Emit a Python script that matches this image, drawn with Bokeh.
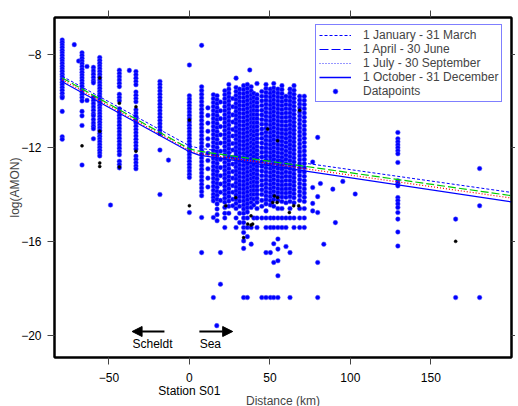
from bokeh.plotting import figure
from bokeh.models import (Range1d, LinearAxis, FixedTicker, Legend, LegendItem,
                          Label, Arrow, NormalHead, ColumnDataSource)
from bokeh.embed import file_html
from bokeh.resources import INLINE

FONT = "Liberation Sans"

# ---------------- data ----------------
x_ticks = [-50, 0, 50, 100, 150]
y_ticks = [-8, -12, -16, -20]

curve_km = [-79, 0, 6, 200]
jan_mar = [-8.95, -11.92, -12.02, -13.91]
apr_jun = [-9.02, -12.05, -12.15, -14.05]
jul_sep = [-9.10, -12.12, -12.25, -14.15]
oct_dec = [-9.18, -12.17, -12.32, -14.31]

station_km = [-79, -71.5, -68.8, -66.7, -63.6, -59.6, -55.7, -49, -43.5, -37.3,
              -33.2, -18.3, -13, 0, 7.6, 11.5, 14.9, 17.2, 19.3, 22,
              24.5, 27, 29, 31.2, 33.7, 36, 37.5, 38.4, 40, 42,
              45, 47.6, 50.3, 52.4, 55, 57.5, 60, 62.5, 65, 68.5,
              71.4, 76.6, 79.7, 81.4, 83.5, 89.1, 90.7, 95.3, 103, 129.5,
              165.4, 180.3, 17.0]

station_logamon = [
    [-7.4, -7.5, -7.61, -7.72, -7.84, -7.95, -8.06, -8.18, -8.29, -8.4, -8.52, -8.63, -8.74, -8.86, -8.97, -9.08, -9.2, -9.31, -9.43, -9.55, -9.68, -9.8, -9.87, -10.45, -11.53, -11.64],
    [-7.6],
    [-8.3],
    [-7.95, -8.06, -8.18, -8.3, -8.42, -8.54, -8.66, -8.78, -8.9, -9.02, -9.14, -9.26, -9.38, -9.5, -9.62, -9.74, -9.86, -10.0, -10.45, -10.64, -11.05, -12.74],
    [-8.53, -9.98],
    [-8.57, -8.72, -8.86, -9.0, -9.14, -9.23, -9.85, -9.98, -10.12, -10.26, -10.4, -10.55, -10.64, -10.8, -10.95, -11.08, -11.19, -11.62],
    [-8.15, -8.27, -8.39, -8.51, -8.63, -8.75, -8.87, -8.99, -9.11, -9.23, -9.35, -9.47, -9.59, -9.71, -9.83, -9.95, -10.07, -10.19, -10.31, -10.43, -10.55, -10.67, -10.79, -10.91, -11.03, -11.15, -11.27, -11.39, -11.51, -11.63, -11.75, -11.87, -11.99, -12.11, -12.23, -12.35],
    [-14.45],
    [-8.69, -8.83, -8.97, -9.11, -9.25, -9.39, -9.72, -9.86, -10.0, -10.34, -10.48, -10.62, -10.76, -10.9, -11.04, -11.18, -11.32, -11.46, -11.6, -11.74, -11.88, -12.02, -12.16, -12.3, -12.58, -12.72, -12.86],
    [-8.7],
    [-8.75, -8.89, -9.03, -9.17, -9.31, -9.62, -9.76, -9.9, -10.04, -10.38, -10.52, -10.66, -10.8, -10.94, -11.08, -11.22, -11.36, -11.5, -11.64, -11.78, -11.92, -12.06, -12.36, -12.5, -12.64, -12.78, -12.9],
    [-9.17, -9.3, -9.44, -9.58, -9.72, -9.86, -10.0, -10.14, -10.28, -10.42, -10.56, -10.7, -10.84, -10.98, -11.12, -11.26, -11.4, -12.1, -14.0],
    [-12.53],
    [-8.47, -9.78, -9.92, -10.06, -10.2, -10.34, -10.48, -10.62, -10.76, -10.9, -11.04, -11.18, -11.32, -11.46, -11.6, -11.74, -11.88, -12.02, -12.16, -12.3, -12.44, -12.58, -12.72, -12.86, -13.0, -13.14, -13.27, -14.77],
    [-7.63, -9.4, -9.56, -9.72, -9.88, -10.04, -10.2, -10.36, -10.52, -10.68, -10.84, -11.0, -11.16, -11.32, -11.48, -11.64, -11.8, -11.96, -12.12, -12.28, -12.44, -12.6, -12.76, -12.92, -13.08, -13.24, -13.4, -13.56, -13.72, -13.88, -14.05, -14.98, -16.48],
    [-10.3, -10.62, -10.95, -11.3, -11.62, -11.9, -12.24, -12.55, -12.9, -13.3, -13.68],
    [-9.74, -9.91, -10.08, -10.25, -10.42, -10.59, -10.76, -10.93, -11.1, -11.27, -11.44, -11.61, -11.78, -11.95, -12.12, -12.29, -12.46, -12.63, -12.8, -12.97, -13.14, -13.31, -13.48, -13.65, -13.82, -13.99, -14.13, -14.27, -14.98, -18.4],
    [-9.78, -9.95, -10.12, -10.29, -10.46, -10.63, -10.8, -10.97, -11.14, -11.31, -11.48, -11.65, -11.82, -11.99, -12.16, -12.33, -12.5, -12.67, -12.84, -13.01, -13.18, -13.35, -13.52, -13.69, -13.86, -14.03, -14.2, -14.4, -14.62, -14.86, -15.12],
    [-10.05, -10.42, -10.76, -11.1, -11.45, -11.8, -12.15, -12.5, -12.85, -13.2, -13.55, -13.9, -14.25, -16.48, -17.83],
    [-9.57, -9.74, -9.91, -10.08, -10.25, -10.42, -10.59, -10.76, -10.93, -11.1, -11.27, -11.44, -11.61, -11.78, -11.95, -12.12, -12.29, -12.46, -12.63, -12.8, -12.97, -13.14, -13.31, -13.48, -13.65, -13.82, -13.99, -14.16, -14.33, -14.55, -14.8, -15.0, -15.41],
    [-9.3, -9.5, -9.67, -9.84, -10.01, -10.18, -10.35, -10.52, -10.69, -10.86, -11.03, -11.2, -11.37, -11.54, -11.71, -11.88, -12.05, -12.22, -12.39, -12.56, -12.73, -12.9, -13.07, -13.24, -13.41, -13.58, -13.75, -13.92, -14.09, -14.28, -14.5, -14.8],
    [-9.9, -10.25, -10.6, -10.9, -11.22, -11.5, -11.82, -12.1, -12.42, -12.7, -13.02, -13.3, -13.62, -13.9, -14.2, -14.48],
    [-9.03, -9.43, -9.6, -9.77, -9.94, -10.11, -10.28, -10.45, -10.62, -10.79, -10.96, -11.13, -11.3, -11.47, -11.64, -11.81, -11.98, -12.15, -12.32, -12.49, -12.66, -12.83, -13.0, -13.17, -13.34, -13.51, -13.68, -13.85, -14.02, -14.2, -14.38, -14.6, -15.0, -15.41],
    [-9.5, -9.68, -9.85, -10.02, -10.19, -10.36, -10.53, -10.7, -10.87, -11.04, -11.21, -11.38, -11.55, -11.72, -11.89, -12.06, -12.23, -12.4, -12.57, -12.74, -12.91, -13.08, -13.25, -13.42, -13.59, -13.76, -13.93, -14.1, -14.28, -14.5, -14.8, -15.2],
    [-9.35, -9.52, -9.69, -9.86, -10.03, -10.2, -10.37, -10.54, -10.71, -10.88, -11.05, -11.22, -11.39, -11.56, -11.73, -11.9, -12.07, -12.24, -12.41, -12.58, -12.75, -12.92, -13.09, -13.26, -13.43, -13.6, -13.77, -13.94, -14.11, -14.28, -14.45, -14.62, -14.8, -15.0, -15.2, -15.41, -15.62, -15.98, -16.3, -18.4],
    [-9.3, -9.47, -9.64, -9.81, -9.98, -10.15, -10.32, -10.49, -10.66, -10.83, -11.0, -11.17, -11.34, -11.51, -11.68, -11.85, -12.02, -12.19, -12.36, -12.53, -12.7, -12.87, -13.04, -13.21, -13.38, -13.55, -13.72, -13.89, -14.06, -14.23, -14.4, -14.57, -14.75, -15.0, -15.41, -15.8, -18.4],
    [-8.68],
    [-9.4, -9.58, -9.75, -9.92, -10.09, -10.26, -10.43, -10.6, -10.77, -10.94, -11.11, -11.28, -11.45, -11.62, -11.79, -11.96, -12.13, -12.3, -12.47, -12.64, -12.81, -12.98, -13.15, -13.32, -13.49, -13.66, -13.83, -14.0, -14.17, -14.34, -14.55, -15.41, -16.12],
    [-9.68, -9.86, -10.04, -10.22, -10.4, -10.58, -10.76, -10.94, -11.12, -11.3, -11.48, -11.66, -11.84, -12.02, -12.2, -12.38, -12.56, -12.74, -12.92, -13.1, -13.28, -13.46, -13.64, -13.82, -14.0, -14.2, -14.45, -15.0],
    [-9.26, -9.74, -9.91, -10.08, -10.25, -10.42, -10.59, -10.76, -10.93, -11.1, -11.27, -11.44, -11.61, -11.78, -11.95, -12.12, -12.29, -12.46, -12.63, -12.8, -12.97, -13.14, -13.31, -13.48, -13.65, -13.82, -13.99, -14.16, -14.33, -14.6, -15.0, -15.41],
    [-9.6, -9.8, -10.0, -10.2, -10.4, -10.6, -10.8, -11.0, -11.2, -11.4, -11.6, -11.8, -12.0, -12.2, -12.4, -12.6, -12.8, -13.0, -13.2, -13.4, -13.6, -13.8, -14.0, -14.25, -14.5, -15.0, -18.4],
    [-9.3, -9.47, -9.64, -9.81, -9.98, -10.15, -10.32, -10.49, -10.66, -10.83, -11.0, -11.17, -11.34, -11.51, -11.68, -11.85, -12.02, -12.19, -12.36, -12.53, -12.7, -12.87, -13.04, -13.21, -13.38, -13.55, -13.72, -13.89, -14.06, -14.23, -14.4, -14.7, -15.0, -15.41, -16.48, -18.4],
    [-9.5, -9.67, -9.84, -10.01, -10.18, -10.35, -10.52, -10.69, -10.86, -11.03, -11.2, -11.37, -11.54, -11.71, -11.88, -12.05, -12.22, -12.39, -12.56, -12.73, -12.9, -13.07, -13.24, -13.41, -13.58, -13.75, -13.92, -14.09, -14.26, -14.45, -15.0, -15.41, -16.48, -18.4],
    [-9.26, -9.45, -9.62, -9.79, -9.96, -10.13, -10.3, -10.47, -10.64, -10.81, -10.98, -11.15, -11.32, -11.49, -11.66, -11.83, -12.0, -12.17, -12.34, -12.51, -12.68, -12.85, -13.02, -13.19, -13.36, -13.53, -13.7, -13.87, -14.04, -14.21, -14.5, -15.0, -15.41, -16.1, -16.9, -18.4],
    [-9.5, -9.67, -9.84, -10.01, -10.18, -10.35, -10.52, -10.69, -10.86, -11.03, -11.2, -11.37, -11.54, -11.71, -11.88, -12.05, -12.22, -12.39, -12.56, -12.73, -12.9, -13.07, -13.24, -13.41, -13.58, -13.75, -13.92, -14.09, -14.26, -14.6, -15.0, -15.41, -15.9, -16.33, -16.83, -17.47, -18.4],
    [-9.35, -9.52, -9.69, -9.86, -10.03, -10.2, -10.37, -10.54, -10.71, -10.88, -11.05, -11.22, -11.39, -11.56, -11.73, -11.9, -12.07, -12.24, -12.41, -12.58, -12.75, -12.92, -13.09, -13.26, -13.43, -13.6, -13.77, -13.94, -14.11, -14.3, -14.6, -15.0, -15.41],
    [-9.8, -9.98, -10.16, -10.34, -10.52, -10.7, -10.88, -11.06, -11.24, -11.42, -11.6, -11.78, -11.96, -12.14, -12.32, -12.5, -12.68, -12.86, -13.04, -13.22, -13.4, -13.58, -13.76, -13.94, -14.12, -14.35, -15.0, -15.41, -16.22],
    [-9.5, -9.67, -9.84, -10.01, -10.18, -10.35, -10.52, -10.69, -10.86, -11.03, -11.2, -11.37, -11.54, -11.71, -11.88, -12.05, -12.22, -12.39, -12.56, -12.73, -12.9, -13.07, -13.24, -13.41, -13.58, -13.75, -13.92, -14.09, -14.3, -14.6, -15.0, -16.48, -18.4],
    [-9.35, -9.55, -9.72, -9.89, -10.06, -10.23, -10.4, -10.57, -10.74, -10.91, -11.08, -11.25, -11.42, -11.59, -11.76, -11.93, -12.1, -12.27, -12.44, -12.61, -12.78, -12.95, -13.12, -13.29, -13.46, -13.63, -13.8, -13.97, -14.14, -14.35, -15.0, -15.41],
    [-9.8, -9.97, -10.14, -10.31, -10.48, -10.65, -10.82, -10.99, -11.16, -11.33, -11.5, -11.67, -11.84, -12.01, -12.18, -12.35, -12.52, -12.69, -12.86, -13.03, -13.2, -13.37, -13.54, -13.71, -13.88, -14.05, -14.25, -14.6, -15.0, -15.41],
    [-9.8, -9.98, -10.16, -10.34, -10.52, -10.7, -10.88, -11.06, -11.24, -11.42, -11.6, -11.78, -11.96, -12.14, -12.32, -12.5, -12.68, -12.86, -13.04, -13.22, -13.4, -13.58, -13.76, -13.94, -14.12, -14.3, -14.6, -15.0, -15.41],
    [-12.61, -13.7, -14.38, -14.7],
    [-11.56, -14.09, -14.77, -16.9, -18.4],
    [-13.53],
    [-16.12],
    [-13.77],
    [-15.2],
    [-13.44],
    [-13.98],
    [-11.35, -11.62, -11.75, -11.88, -12.0, -12.13, -12.26, -12.63, -13.41, -13.52, -13.63, -14.13, -14.26, -14.4, -14.55, -14.77, -15.05, -15.6, -16.2],
    [-15.05, -18.4],
    [-12.89, -14.48, -18.4],
    [-19.6],
]

black_km = [-66.7, -55.7, -55.7, -55.7, -55.7, -43.5, -43.5, -33.2, -33.2, 0, 0,
            22.6, 28.8, 33.7, 36.2, 38.3, 38.3, 39.3, 48.6, 51.8, 52.8, 54.5,
            54.8, 54.8, 62.1, 64.8, 67.9, 68.5, 165.4]
black_logamon = [-11.92, -9.02, -11.3, -12.65, -12.8, -10.1, -12.82, -10.25, -12.15,
                 -10.82, -14.48, -14.48, -14.13, -15.84, -15.26, -14.91, -15.3, -15.26,
                 -11.2, -14.34, -14.06, -14.34, -14.13, -11.7, -14.77, -14.48, -14.48,
                 -10.4, -16.0]

season_labels = ["1 January - 31 March", "1 April - 30 June",
                 "1 July - 30 September", "1 October - 31 December"]

# ---------------- build ----------------
pts_x, pts_y = [], []
for km, vals in zip(station_km, station_logamon):
    for v in vals:
        pts_x.append(km)
        pts_y.append(v)

p = figure(frame_width=457, frame_height=340, output_backend="svg", toolbar_location=None,
           x_range=Range1d(-83.8, 200.1), y_range=Range1d(-20.96, -6.44),
           min_border_left=49, min_border_right=4, min_border_top=17,
           min_border_bottom=53)
p.grid.visible = False
p.outline_line_color = "black"
p.outline_line_width = 2
p.background_fill_color = "white"
p.border_fill_color = "white"


def style_axis(ax, labels=True):
    ax.axis_line_width = 2
    ax.axis_line_color = "black"
    ax.major_tick_out = 7
    ax.major_tick_in = 0
    ax.minor_tick_out = 0
    ax.minor_tick_in = 0
    ax.major_tick_line_color = "#444444"
    ax.major_tick_line_width = 1
    ax.major_label_text_font = FONT
    if labels:
        ax.major_label_text_color = "black"
        ax.major_label_text_font_size = "12px"
        ax.major_label_standoff = 8
    else:
        ax.major_label_text_color = None
        ax.major_label_text_font_size = "1px"
        ax.major_label_standoff = 0


xa = p.xaxis[0]
xa.ticker = FixedTicker(ticks=x_ticks)
style_axis(xa)
ya = p.yaxis[0]
ya.ticker = FixedTicker(ticks=y_ticks)
style_axis(ya)
ya.major_label_standoff = 6
ya.axis_label = "log(AMON)"
ya.axis_label_text_font = FONT
ya.axis_label_text_font_size = "12px"
ya.axis_label_text_font_style = "normal"
ya.axis_label_standoff = -4

# invisible spacer strip outside the y axis title (keeps the title off the page edge)
spacer = LinearAxis(ticker=FixedTicker(ticks=[-12]))
spacer.axis_line_color = None
spacer.major_tick_line_color = None
spacer.minor_tick_line_color = None
spacer.major_tick_out = 5
spacer.major_tick_in = 0
spacer.minor_tick_out = 0
spacer.major_label_text_color = None
spacer.major_label_text_font_size = "1px"
spacer.major_label_standoff = 0
p.add_layout(spacer, "left")

# second row under the x axis: station name and axis title
station_axis = LinearAxis(ticker=FixedTicker(ticks=[0]),
                          major_label_overrides={0: "Station S01"})
station_axis.axis_line_color = None
station_axis.major_tick_line_color = None
station_axis.minor_tick_line_color = None
station_axis.major_tick_out = 0
station_axis.major_tick_in = 0
station_axis.major_label_standoff = -1
station_axis.major_label_text_font = FONT
station_axis.major_label_text_font_size = "12px"
station_axis.major_label_text_color = "black"
station_axis.axis_label = "Distance (km)"
station_axis.axis_label_text_font = FONT
station_axis.axis_label_text_font_size = "12px"
station_axis.axis_label_text_font_style = "normal"
station_axis.axis_label_standoff = -7
p.add_layout(station_axis, "below")

top = LinearAxis(ticker=FixedTicker(ticks=x_ticks))
style_axis(top, labels=False)
p.add_layout(top, "above")
right = LinearAxis(ticker=FixedTicker(ticks=y_ticks))
style_axis(right, labels=False)
right.major_tick_out = 4
p.add_layout(right, "right")

# data points
p.scatter(pts_x, pts_y, size=4.6, marker="circle", fill_color="#0000ff",
          line_color="#5050ff", line_alpha=0.6, line_width=0.8)
p.scatter(black_km, black_logamon, size=3, marker="circle", fill_color="black",
          line_color="black", line_width=0.5)

# seasonal curves
p.line(curve_km, jan_mar, line_color="#0000ff", line_width=1, line_dash="3 2")
p.line(curve_km, apr_jun, line_color="#00cc00", line_width=1.2, line_dash="8 3")
p.line(curve_km, jul_sep, line_color="#ff0000", line_width=1.2, line_dash="1 2")
p.line(curve_km, oct_dec, line_color="#0000ff", line_width=1.2)

# legend (legend glyphs are drawn in blue); proxy renderers sit outside the view
proxy = ColumnDataSource(data=dict(x=[-1000, -999], y=[-1000, -1000]))
r1 = p.line("x", "y", source=proxy, line_color="#0000ff", line_width=1.2, line_dash="3 2")
r2 = p.line("x", "y", source=proxy, line_color="#0000ff", line_width=1.2, line_dash="9 3")
r3 = p.line("x", "y", source=proxy, line_color="#3030ff", line_width=1.2, line_dash="1 2")
r4 = p.line("x", "y", source=proxy, line_color="#0000ff", line_width=1.6)
r5 = p.scatter("x", "y", source=proxy, size=4, fill_color="#0000ff",
               line_color="#5050ff", line_alpha=0.6)
items = [LegendItem(label=lab, renderers=[r], index=0) for lab, r in
         zip(season_labels + ["Datapoints"], [r1, r2, r3, r4, r5])]
legend = Legend(items=items, location=(261, 255), border_line_color="#0000ff",
                border_line_width=1, background_fill_color="white", background_fill_alpha=1,
                label_text_font=FONT, label_text_font_size="12px",
                glyph_width=32, glyph_height=12, label_height=12, label_standoff=12,
                spacing=0, padding=3, margin=0)
p.add_layout(legend)

# direction arrows
p.add_layout(Arrow(end=NormalHead(size=10, fill_color="black", line_color="black"),
                   x_start=-15.5, y_start=-19.85, x_end=-35.6, y_end=-19.85,
                   line_width=2, line_color="black"))
p.add_layout(Arrow(end=NormalHead(size=10, fill_color="black", line_color="black"),
                   x_start=6.2, y_start=-19.85, x_end=26.9, y_end=-19.85,
                   line_width=2, line_color="black"))
for txt, xx in [("Scheldt", -22.9), ("Sea", 13.0)]:
    p.add_layout(Label(x=xx, y=-20.37, text=txt, text_align="center",
                       text_baseline="middle", text_font=FONT,
                       text_font_size="12px", text_color="black"))

open("out.html", "w").write(file_html(p, INLINE))
